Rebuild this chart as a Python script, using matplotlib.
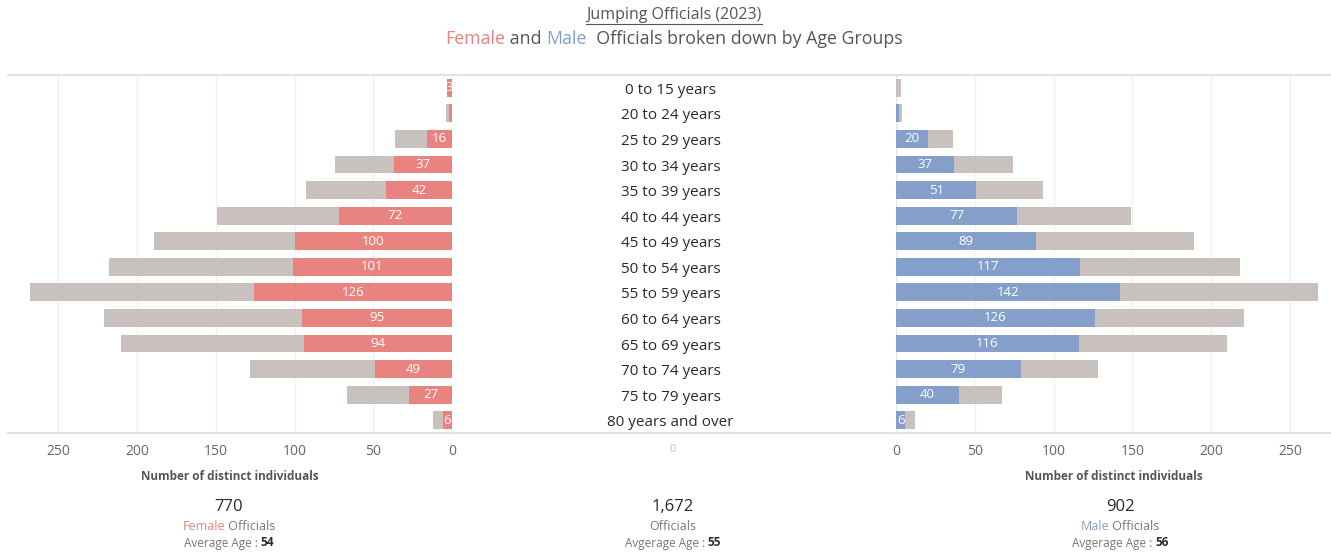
import matplotlib
matplotlib.use("Agg")
import matplotlib.pyplot as plt
from matplotlib.lines import Line2D
import numpy as np

plt.rcParams['font.family'] = ['Open Sans', 'DejaVu Sans']

# data
age_groups = ["0 to 15 years", "20 to 24 years", "25 to 29 years", "30 to 34 years",
              "35 to 39 years", "40 to 44 years", "45 to 49 years", "50 to 54 years",
              "55 to 59 years", "60 to 64 years", "65 to 69 years", "70 to 74 years",
              "75 to 79 years", "80 years and over"]
female = [3, 2, 16, 37, 42, 72, 100, 101, 126, 95, 94, 49, 27, 6]
male = [0, 2, 20, 37, 51, 77, 89, 117, 142, 126, 116, 79, 40, 6]
ticks = [0, 50, 100, 150, 200, 250]
female_total, male_total, all_total = "770", "902", "1,672"
female_avg, male_avg, all_avg = "54", "56", "55"

PINK = "#e8837f"
BLUE = "#859fcb"
GREY = "#c9c1be"
DARK = "#2a2a2a"
MID = "#666666"

female = np.array(female)
male = np.array(male)
total = female + male
y = np.arange(len(age_groups))

W, H = 1331, 554
fig = plt.figure(figsize=(W / 100, H / 100), dpi=100)

def fx(px):
    return px / W

def fy(py):
    return 1 - py / H

top, bot = 75, 433
axL = fig.add_axes([fx(8), fy(bot), fx(452 - 8), fy(top) - fy(bot)])
axM = fig.add_axes([fx(452), fy(bot), fx(896 - 452), fy(top) - fy(bot)])
axR = fig.add_axes([fx(896), fy(bot), fx(1331 - 896), fy(top) - fy(bot)])

bh = 0.7
for ax, vals, col in [(axL, female, PINK), (axR, male, BLUE)]:
    ax.barh(y, total, height=bh, color=GREY, zorder=2)
    bars = ax.barh(y, vals, height=bh, color=col, zorder=3)
    for b, v in zip(bars, vals):
        if v >= 3:
            t = ax.text(v / 2, b.get_y() + bh / 2, str(v), ha="center", va="center",
                        color="white", fontsize=9.5, zorder=4)
            t.set_clip_path(b)
    ax.set_ylim(len(age_groups) - 0.5, -0.5)
    ax.set_xticks(ticks)
    ax.set_xticklabels([str(t) for t in ticks], color=MID, fontsize=10)
    ax.tick_params(axis="x", length=0, pad=8)
    ax.set_yticks([])
    for t in ticks[1:]:
        ax.axvline(t, color="#f1f1f1", lw=1, zorder=1)
    ax.axvline(0, color="#e4e4e4", lw=1, zorder=1)
    ax.set_xlabel("Number of distinct individuals", fontsize=8.5, fontweight="bold",
                  color="#555555", labelpad=8)
    for s in ["left", "right"]:
        ax.spines[s].set_visible(False)

axL.set_xlim(282, 0)
axR.set_xlim(0, 276)

axM.set_xlim(0, 1)
axM.set_ylim(len(age_groups) - 0.5, -0.5)
axM.set_xticks([])
axM.set_yticks([])
for s in ["left", "right"]:
    axM.spines[s].set_visible(False)
for label, yy in zip(age_groups, y):
    axM.text(0.492, yy + 0.1, label, ha="center", va="center", fontsize=11, color=DARK)
fig.text(fx(673), fy(449), "0", ha="center", va="center", fontsize=8, color="#bbbbbb")

for ax in (axL, axM, axR):
    for s in ["top", "bottom"]:
        ax.spines[s].set_color("#dddddd")
        ax.spines[s].set_linewidth(1.2)

# title
fig.canvas.draw()
r = fig.canvas.get_renderer()
title = fig.text(fx(674), fy(15), "Jumping Officials (2023)", ha="center", va="center",
                 fontsize=11.5, color="#555555")
bb = title.get_window_extent(r)
fig.add_artist(Line2D([bb.x0 / W, bb.x1 / W], [(bb.y0 - 1) / H] * 2, color="#555555", lw=0.8))


def colored_line(parts, cx, cy, size, weights=None):
    # draw text pieces in a row, centred on cx
    arts = []
    for i, (s, c) in enumerate(parts):
        w = weights[i] if weights else "normal"
        arts.append(fig.text(0, fy(cy), s, ha="left", va="center", fontsize=size,
                             color=c, fontweight=w))
    widths = [a.get_window_extent(r).width for a in arts]
    x = cx - sum(widths) / 2
    for a, w in zip(arts, widths):
        a.set_x(fx(x))
        x += w


colored_line([("Female", PINK), (" and ", "#555555"), ("Male", BLUE),
              ("  Officials broken down by Age Groups", "#555555")], 674, 39, 12.8)

# summary blocks
for cx, num, who, who_col, avg_lbl, avg in [
        (229, female_total, "Female", PINK, "Average Age : ", female_avg),
        (673, all_total, "", None, "Avgerage Age : ", all_avg),
        (1120, male_total, "Male", BLUE, "Avgerage Age : ", male_avg)]:
    fig.text(fx(cx), fy(507), num, ha="center", va="center", fontsize=12, color=DARK)
    if who:
        colored_line([(who, who_col), (" Officials", "#777777")], cx, 526, 9)
    else:
        fig.text(fx(cx), fy(526), "Officials", ha="center", va="center", fontsize=9,
                 color="#777777")
    colored_line([(avg_lbl, "#777777"), (avg, DARK)], cx, 543, 8.5,
                 weights=["normal", "bold"])

fig.savefig("out.png", dpi=100, facecolor="white")
